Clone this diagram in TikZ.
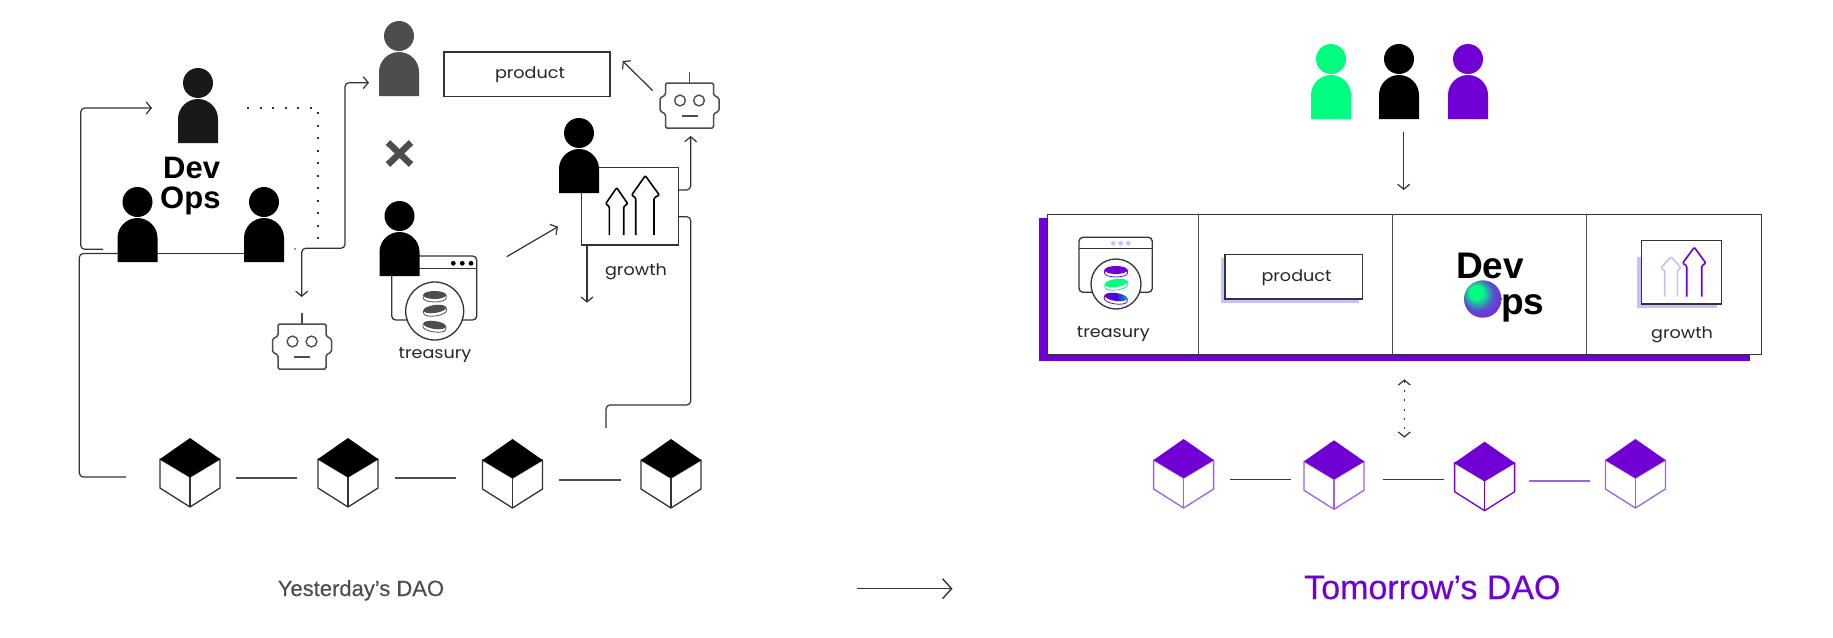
\documentclass[tikz,border=0pt]{standalone}
\usepackage{fontspec}
\setmainfont{Liberation Sans}
\newfontfamily\lab[FakeStretch=1.1]{Poppins}
\newfontfamily\capfont[FakeBold=0.25]{Liberation Sans}
\usetikzlibrary{arrows.meta,calc}
\definecolor{pur}{HTML}{7000D4}
\definecolor{grn}{HTML}{00FF80}
\definecolor{lav}{HTML}{C2C2FF}
\definecolor{ink}{HTML}{333333}
\definecolor{slate}{HTML}{4D4D4D}
\definecolor{soft}{HTML}{A060E4}
\definecolor{orbA}{HTML}{5A50D0}
\definecolor{orbB}{HTML}{7A20D8}
\definecolor{orbC}{HTML}{A000E8}
\pgfdeclareradialshading{orb}{\pgfpoint{-11bp}{11bp}}{color(0bp)=(grn); color(9bp)=(grn); color(21bp)=(orbA); color(33bp)=(orbB); color(45bp)=(orbC); color(50bp)=(orbC)}
\tikzset{
  tip/.tip={Straight Barb[length=5pt,width=12pt,line width=1.2pt]},
  bigtip/.tip={Straight Barb[length=9pt,width=20pt,line width=1.4pt]},
  conn/.style={draw=ink,line width=1.2pt,rounded corners=4pt},
  arr/.style={conn,-{tip}},
  dotline/.style={draw=ink,line width=1.3pt,dash pattern=on 2pt off 10.5pt},
  dotshort/.style={draw=ink,line width=1.3pt,dash pattern=on 2pt off 7.3pt},
  tbox/.style={draw=ink,line width=1.3pt,fill=white,inner sep=0pt,rectangle},
  lbl/.style={font=\lab\fontsize{16}{16}\selectfont,text=black!85,inner sep=0pt},
  devlbl/.style={font=\bfseries\fontsize{31}{31}\selectfont,text=black,inner sep=0pt,anchor=base west},
}
% cx, bottom, colour
\newcommand{\person}[3]{%
  \fill[#3] (#1,#2-60) circle[radius=15];
  \fill[#3] (#1-20,#2) -- (#1-20,#2-24) .. controls (#1-20,#2-35) and (#1-11,#2-44) .. (#1,#2-44)
    .. controls (#1+11,#2-44) and (#1+20,#2-35) .. (#1+20,#2-24) -- (#1+20,#2) -- cycle;}
% cx, top, main colour, edge colour
\newcommand{\cube}[4]{%
  \draw[#4,line width=1.3pt,fill=white,line join=round] (#1-30,#2+21) -- (#1-30,#2+50) -- (#1,#2+69) -- (#1+30,#2+50) -- (#1+30,#2+21) -- (#1,#2+39) -- cycle;
  \draw[#4,line width=1.3pt] (#1,#2+39) -- (#1,#2+69);
  \fill[#3] (#1,#2) -- (#1+30,#2+21) -- (#1,#2+39) -- (#1-30,#2+21) -- cycle;}
% cx, top
\newcommand{\robot}[2]{%
  \draw[slate,line width=1.5pt,rounded corners=1.5pt,fill=white] (#1-24,#2) -- (#1+24,#2) -- (#1+24,#2+12) -- (#1+29.5,#2+15) -- (#1+29.5,#2+28) -- (#1+24,#2+31) -- (#1+24,#2+45) -- (#1-24,#2+45) -- (#1-24,#2+31) -- (#1-29.5,#2+28) -- (#1-29.5,#2+15) -- (#1-24,#2+12) -- cycle;
  \draw[slate,line width=1.4pt] (#1,#2) -- (#1,#2-11);
  \draw[slate,line width=1.4pt] (#1-9.5,#2+17.5) circle[radius=5.4] (#1+9.5,#2+17.5) circle[radius=5.4];
  \draw[slate,line width=1.4pt] (#1-8,#2+33) -- (#1+8,#2+33);}
% cx, cy, tilt, top options, edge colour
\newcommand{\coin}[5]{%
  \begin{scope}[shift={(#1,#2)},rotate=#3]
    \draw[#5,line width=0.8pt,fill=white] (-11.5,0) -- (-11.5,3) arc[start angle=180,end angle=360,x radius=11.5,y radius=-4] -- (11.5,0);
    \path[#4] (0,0) ellipse[x radius=11.5,y radius=4];
  \end{scope}}
% x1 x2 (bases), xo1 xo2 (shoulders), shoulder y, tip x, tip y, bottom y, colour
\newcommand{\uparr}[9]{%
  \draw[#9,line width=1.6pt,line join=round,rounded corners=1pt] (#1,#8) -- (#1,#5) -- (#3,#5-3) -- (#6,#7) -- (#4,#5-3) -- (#2,#5) -- (#2,#8);}
\begin{document}
\begin{tikzpicture}[x=1pt,y=-1pt]
\useasboundingbox (0,0) rectangle (1833,637);
\fill[white] (0,0) rectangle (1833,637);

% ---------- named connector ends (left)
\coordinate (loopA) at (103,249.3);
\coordinate (loopB) at (152,108);
\coordinate (chainA) at (118,253.5);
\coordinate (chainB) at (126,477);
\coordinate (mateR) at (264,253.5);
\coordinate (toGrey) at (369,82.7);
\coordinate (toBot) at (301.7,297);
\coordinate (dotA) at (247,108);
\coordinate (dotB) at (295,249);
\coordinate (botTop) at (652.7,90.7);
\coordinate (prodEnd) at (622.7,61);
\coordinate (treEnd) at (506.7,256.7);
\coordinate (groEnd) at (558,226.7);
\coordinate (groDown) at (587,302.7);
\coordinate (botUp) at (690.7,136);
\coordinate (chainTop) at (606,428);

% connectors behind shapes
\draw[conn] (chainA) -- (mateR);
\draw[arr] (loopA) -- (80.7,249.3) -- (80.7,108) -- (loopB);
\draw[conn] (chainA) -- (79.3,253.5) -- (79.3,477) -- (chainB);
\draw[conn,{tip}-{tip}] (toGrey) -- (345,82.7) -- (345,248.3) -- (301.7,248.3) -- (toBot);
\draw[dotline] (dotA) -- (318,108) -- (318,245);
\fill[ink] (dotB) circle[radius=0.8];

% people, left
\person{198}{143}{black!90}
\person{137.5}{262}{black}
\person{264}{262}{black}
\person{399}{96}{slate}

\node[devlbl] (devA) at (163,178) {Dev};
\node[devlbl] (opsA) at (160,208) {Ops};

% product box, left
\node[tbox,minimum width=166pt,minimum height=44.7pt] (prodL) at (527,74.3) {};
\node[lbl] (prodLLab) at (530,75) {product};
\draw[arr] (botTop) -- (prodEnd);

% cross
\draw[slate,line width=6.5pt] (388,142.5) -- (411,164.5) (411,142.5) -- (388,164.5);

% treasury, left
\draw[ink,line width=1.3pt,rounded corners=4pt,fill=white] (391.7,256) rectangle (476.7,320);
\draw[ink,line width=1.3pt] (391.7,268.7) -- (476.7,268.7);
\foreach \xx in {453.3,462.3,471}{\fill[black] (\xx,263.3) circle[radius=2.4];}
\node[circle,draw=ink,line width=1.3pt,fill=white,minimum size=58pt,inner sep=0pt] (treL) at (434.7,311) {};
\coin{434.7}{295}{0}{fill=slate}{slate}
\coin{434.7}{309}{8}{fill=slate}{slate}
\coin{434.7}{325}{-8}{fill=slate}{slate}
\node[lbl] (treLab) at (435,355.5) {treasury};
\person{399.5}{276}{black}
\draw[arr] (treEnd) -- (groEnd);

% growth, left
\node[tbox,minimum width=97.4pt,minimum height=77.7pt] (groL) at (630,206.2) {};
\uparr{609.3}{623.7}{605.7}{627.7}{206.7}{616.7}{187.7}{235}{black}
\uparr{635.7}{654}{631.7}{659.3}{198}{645.3}{175.7}{235}{black}
\person{579}{193}{black}
\draw[arr] (587,245) -- (groDown);
\node[lbl] (groLab) at (636,272.2) {growth};
\draw[arr] (678.7,190) -- (690.7,190) -- (botUp);
\draw[conn] (678.7,216.7) -- (690.7,216.7) -- (690.7,405) -- (606,405) -- (chainTop);

% robots
\robot{689.5}{83}
\robot{302}{324}

% chain, left
\cube{190}{438}{black}{ink}
\cube{348}{438}{black}{ink}
\cube{512.5}{439}{black}{ink}
\cube{671}{439}{black}{ink}
\coordinate (cA1) at (236,478); \coordinate (cA2) at (297,478);
\coordinate (cB1) at (394.6,478); \coordinate (cB2) at (456,478);
\coordinate (cC1) at (559,480); \coordinate (cC2) at (620.6,480);
\draw[conn,draw=slate] (cA1) -- (cA2);
\draw[conn,draw=slate] (cB1) -- (cB2);
\draw[conn,draw=slate] (cC1) -- (cC2);

% captions and transition
\node[inner sep=0pt,anchor=base west,text=slate,font=\capfont\fontsize{22}{22}\selectfont] (capL) at (277.6,596) {Yesterday’s DAO};
\coordinate (transA) at (857,588.7);
\coordinate (transB) at (952.5,588.7);
\draw[conn,-{bigtip}] (transA) -- (transB);
\node[inner sep=0pt,anchor=base west,text=pur,font=\capfont\fontsize{34}{35}\selectfont] (capR) at (1304,599) {Tomorrow’s DAO};

% ---------- right
\person{1331}{119}{grn}
\person{1399}{119}{black}
\person{1468}{119}{pur}
\coordinate (teamDown) at (1403.7,131.7);
\coordinate (panelTop) at (1403.7,190);
\draw[arr] (teamDown) -- (panelTop);

\fill[pur] (1038.7,218) rectangle (1750,361);
\node[tbox,minimum width=714pt,minimum height=140pt] (panel) at (1404.7,284.3) {};
\draw[slate,line width=1.3pt] (1198.7,214.3) -- (1198.7,354.3) (1392.7,214.3) -- (1392.7,354.3) (1586.7,214.3) -- (1586.7,354.3);

% treasury, right
\draw[ink,line width=1.3pt,rounded corners=4pt] (1079,237.3) rectangle (1152.3,292.3);
\draw[ink,line width=1.3pt] (1079,248.3) -- (1152.3,248.3);
\foreach \xx in {1113.3,1120.6,1128.3}{\fill[lav] (\xx,243.3) circle[radius=2.3];}
\node[circle,draw=ink,line width=1.3pt,fill=white,minimum size=50pt,inner sep=0pt] (treR) at (1116,284) {};
\coin{1116}{270}{0}{fill=pur}{pur}
\coin{1116}{283}{8}{fill=grn}{grn}
\coin{1116}{297}{-8}{left color=pur,right color=grn!70!blue,middle color=pur!60!blue}{pur}
\node[lbl] (treRLab) at (1113.3,334) {treasury};

% product, right
\fill[lav] (1221,258.3) rectangle (1359,302.7);
\node[tbox,minimum width=137.7pt,minimum height=44.7pt] (prodR) at (1293.8,276.7) {};
\node[lbl] (prodRLab) at (1296.5,278) {product};

% devops, right
\node[devlbl,font=\bfseries\fontsize{37}{37}\selectfont] (devB) at (1456,278) {Dev};
\shade[shading=orb] (1482.7,299) circle[radius=18.7];
\node[devlbl,font=\bfseries\fontsize{37}{37}\selectfont] (opsB) at (1501,314) {ps};

% growth, right
\fill[lav] (1637,256.7) rectangle (1716.7,308.3);
\node[tbox,minimum width=80pt,minimum height=63.3pt] (groR) at (1681.3,272.3) {};
\uparr{1664.7}{1677.3}{1661}{1680.7}{270.7}{1671}{256.7}{296.7}{lav}
\uparr{1686.7}{1701.7}{1682.7}{1705.7}{266}{1694.3}{247.3}{296.7}{pur}
\node[lbl] (groRLab) at (1682,334.8) {growth};

% dotted link
\coordinate (linkA) at (1404.3,379.3);
\coordinate (linkB) at (1404.3,437.7);
\draw[dotshort,{tip}-{tip}] (linkA) -- (linkB);

% chain, right
\cube{1183.6}{439}{pur}{soft}
\cube{1334}{440.3}{pur}{soft}
\cube{1484.6}{441.7}{pur}{pur}
\cube{1635.4}{439}{pur}{soft}
\coordinate (dA1) at (1230,479.3); \coordinate (dA2) at (1291,479.3);
\coordinate (dB1) at (1382.5,479.3); \coordinate (dB2) at (1443.6,479.3);
\coordinate (dC1) at (1528.6,481); \coordinate (dC2) at (1590,481);
\draw[pur,line width=1.3pt] (dA1) -- (dA2);
\draw[pur,line width=1.3pt] (dB1) -- (dB2);
\draw[soft,line width=1.5pt] (dC1) -- (dC2);
\end{tikzpicture}
\end{document}
